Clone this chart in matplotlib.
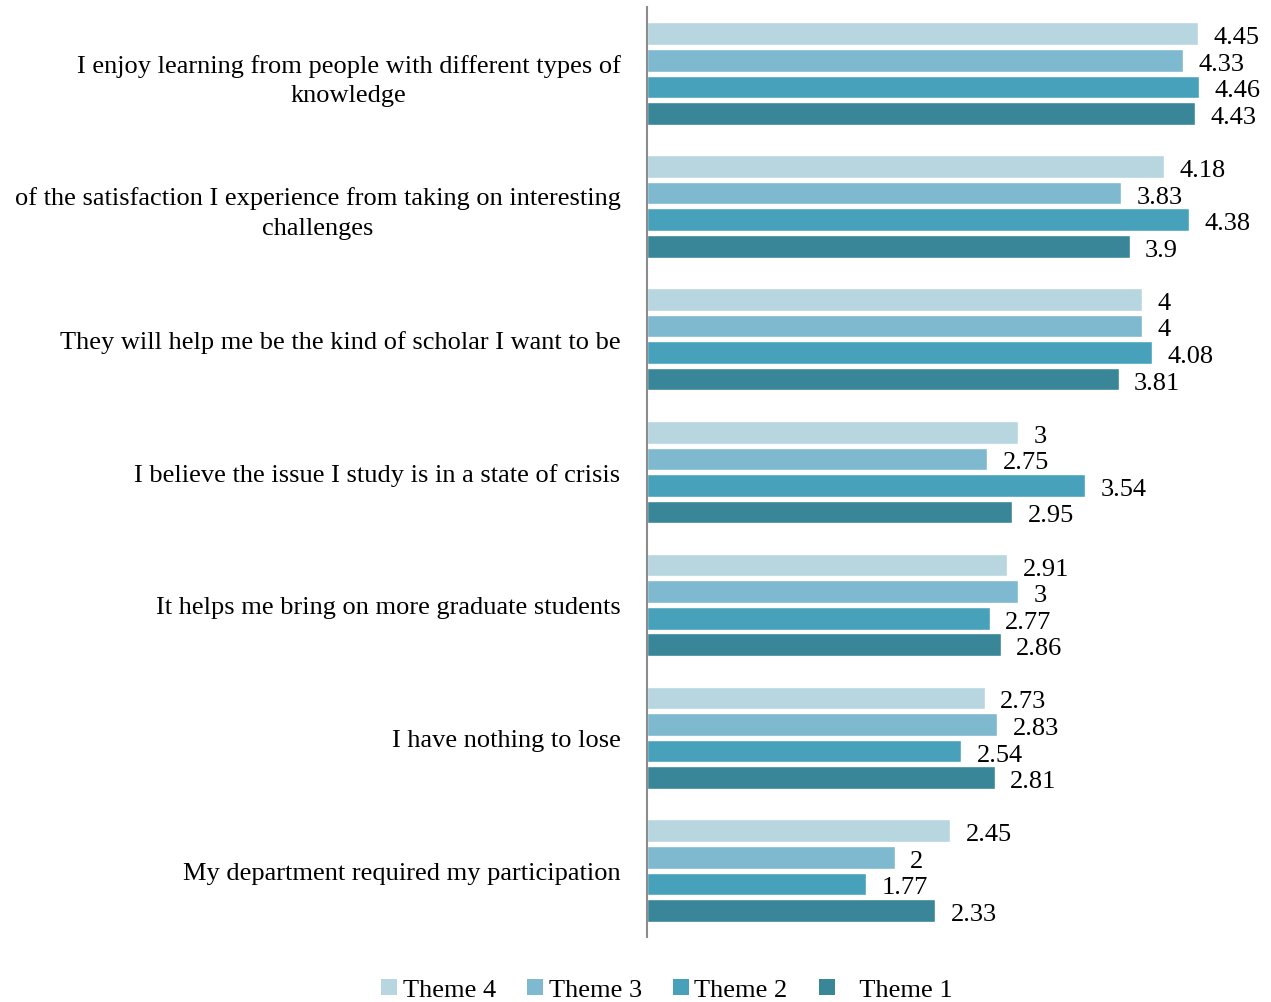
import numpy as np
import matplotlib.pyplot as plt
from matplotlib.patches import Patch

plt.rcParams['font.family'] = ['Liberation Serif', 'DejaVu Serif']

categories = [
    "I enjoy learning from people with different types of\nknowledge",
    "of the satisfaction I experience from taking on interesting\nchallenges",
    "They will help me be the kind of scholar I want to be",
    "I believe the issue I study is in a state of crisis",
    "It helps me bring on more graduate students",
    "I have nothing to lose",
    "My department required my participation",
]
theme4 = [4.45, 4.18, 4, 3, 2.91, 2.73, 2.45]
theme3 = [4.33, 3.83, 4, 2.75, 3, 2.83, 2]
theme2 = [4.46, 4.38, 4.08, 3.54, 2.77, 2.54, 1.77]
theme1 = [4.43, 3.9, 3.81, 2.95, 2.86, 2.81, 2.33]

series = [theme4, theme3, theme2, theme1]
names = ["Theme 4", "Theme 3", "Theme 2", "   Theme 1"]
colors = ["#B7D6E0", "#7EB9CF", "#48A1BA", "#3A8699"]

fig = plt.figure(figsize=(12.71, 10.03), dpi=100)
ax = fig.add_axes([0.509, 0.0648, 0.487, 0.927])

pos = np.arange(len(categories))
for j, (vals, c) in enumerate(zip(series, colors)):
    ypos = pos + 0.2 + 0.2 * j
    ax.barh(ypos, vals, height=0.17, color=c, edgecolor='white', linewidth=1)
    # value labels, nudged a little below the bar centre
    for y, v in zip(ypos, vals):
        ax.annotate(f"{v:g}", (v, y), xytext=(11, -2.5), textcoords='offset points',
                    ha='left', va='center', fontsize=19)

ax.set_xlim(0, 5)
ax.set_ylim(len(categories), 0)
ax.set_yticks(pos + 0.5)
ax.set_yticklabels(categories, fontsize=19)
for t in ax.get_yticklabels():
    t.set_multialignment('center')
    t.set_linespacing(1.45)
ax.tick_params(axis='y', length=0, pad=19)
ax.set_xticks([])
for s in ['top', 'right', 'bottom']:
    ax.spines[s].set_visible(False)
ax.spines['left'].set_color('#8c8c8c')
ax.spines['left'].set_linewidth(1.5)

handles = [Patch(facecolor=c, edgecolor='none') for c in colors]
fig.legend(handles, names, loc='center', bbox_to_anchor=(0.525, 0.012), ncol=4,
           frameon=False, fontsize=19, handlelength=0.6, handleheight=0.6,
           handletextpad=0.2, columnspacing=1.2)

fig.savefig('out.png', dpi=100)
